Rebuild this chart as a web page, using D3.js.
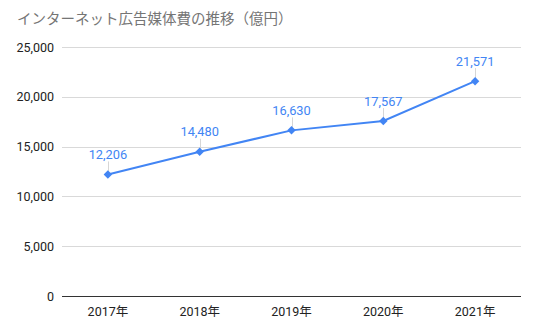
<!DOCTYPE html>
<html>
<head>
<meta charset="utf-8">
<script src="https://cdn.jsdelivr.net/npm/d3@7"></script>
<style>
  html, body { margin: 0; padding: 0; background: #fff; }
  svg { display: block; }
  text { font-family: Roboto, "Noto Sans CJK JP", Arial, sans-serif; }
</style>
</head>
<body>
<svg id="chart" width="538" height="332"></svg>
<script>
// Internet advertising spend by year (100 million yen)
const years = ["2017年", "2018年", "2019年", "2020年", "2021年"];
const spend = [12206, 14480, 16630, 17567, 21571];
const yTicks = [0, 5000, 10000, 15000, 20000, 25000];
const title = "インターネット広告媒体費の推移（億円）";

const W = 538, H = 332;
const margin = { top: 47, right: 17, bottom: 36, left: 62 };
const svg = d3.select("#chart");

const x = d3.scaleBand().domain(years).range([margin.left, W - margin.right]);
const y = d3.scaleLinear().domain([0, 25000]).range([H - margin.bottom, margin.top]);

const blue = "#4285f4";
const fmt = d3.format(",");

// Title
svg.append("text")
  .attr("x", 17).attr("y", 24)
  .attr("font-size", 14.5)
  .attr("fill", "#757575")
  .attr("font-family", "'Noto Sans CJK JP', sans-serif")
  .text(title);

// Gridlines
svg.append("g")
  .selectAll("line")
  .data(yTicks.filter(d => d !== 0))
  .join("line")
  .attr("x1", margin.left).attr("x2", W - margin.right)
  .attr("y1", d => Math.round(y(d)) + 0.5).attr("y2", d => Math.round(y(d)) + 0.5)
  .attr("stroke", "#d9d9d9").attr("stroke-width", 1);

// Y axis labels
const yAxis = svg.append("g")
  .attr("transform", `translate(${margin.left},0)`)
  .call(d3.axisLeft(y).tickValues(yTicks).tickFormat(fmt).tickSize(0).tickPadding(8));
yAxis.select(".domain").remove();
yAxis.selectAll("text")
  .attr("font-size", 12.5)
  .attr("fill", "#222")
  .attr("font-family", "Arial, 'Liberation Sans', sans-serif");

// Baseline
svg.append("line")
  .attr("x1", margin.left).attr("x2", W - margin.right)
  .attr("y1", Math.round(y(0)) + 0.5).attr("y2", Math.round(y(0)) + 0.5)
  .attr("stroke", "#333").attr("stroke-width", 1);

// X axis labels
const xAxis = svg.append("g")
  .attr("transform", `translate(0,${y(0)})`)
  .call(d3.axisBottom(x).tickSize(0).tickPadding(11));
xAxis.select(".domain").remove();
xAxis.selectAll("text")
  .attr("font-size", 12.5)
  .attr("fill", "#222")
  .attr("font-family", "Arial, 'Liberation Sans', 'Noto Sans CJK JP', sans-serif");

const cx = d => x(d) + x.bandwidth() / 2;
const pts = years.map((yr, i) => ({ yr, v: spend[i] }));

// Leader lines from points to value labels
svg.append("g")
  .selectAll("line")
  .data(pts)
  .join("line")
  .attr("x1", d => Math.round(cx(d.yr)) + 0.5).attr("x2", d => Math.round(cx(d.yr)) + 0.5)
  .attr("y1", d => y(d.v) - 3).attr("y2", d => y(d.v) - 13)
  .attr("stroke", "#d6d6d6").attr("stroke-width", 1);

// Line
svg.append("path")
  .datum(pts)
  .attr("fill", "none")
  .attr("stroke", blue)
  .attr("stroke-width", 2)
  .attr("d", d3.line().x(d => cx(d.yr)).y(d => y(d.v)));

// Diamond markers
svg.append("g")
  .selectAll("path")
  .data(pts)
  .join("path")
  .attr("transform", d => `translate(${cx(d.yr)},${y(d.v)}) rotate(45)`)
  .attr("d", "M-3,-3H3V3H-3Z")
  .attr("fill", blue);

// Value labels
svg.append("g")
  .selectAll("text")
  .data(pts)
  .join("text")
  .attr("x", d => cx(d.yr))
  .attr("y", d => y(d.v) - 15.5)
  .attr("text-anchor", "middle")
  .attr("font-size", 12.8)
  .attr("fill", blue)
  .text(d => fmt(d.v));
</script>
</body>
</html>
